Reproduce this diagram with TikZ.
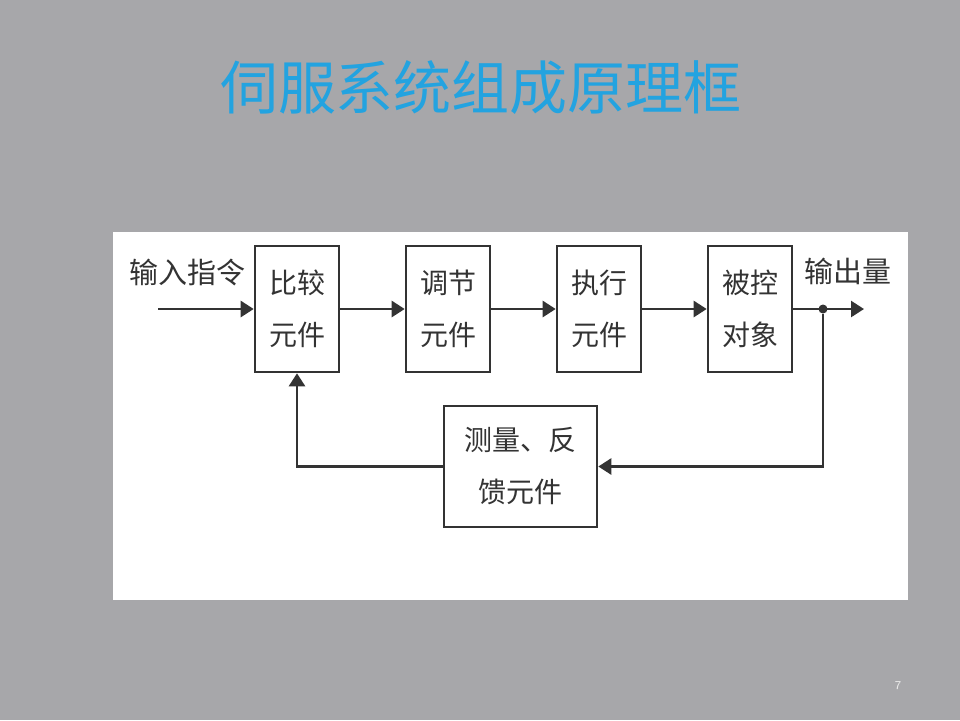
\documentclass[tikz,border=0pt]{standalone}
\usepackage{fontspec}
\newfontfamily\cjk{Noto Sans CJK SC}
\usepackage{xcolor}
\definecolor{bg}{HTML}{A7A7AA}
\definecolor{ln}{HTML}{333333}
\definecolor{tb}{HTML}{23A3E0}
\usetikzlibrary{arrows.meta,positioning}

\begin{document}
\begin{tikzpicture}[
  x=0.5pt, y=-0.5pt, node distance=32.2pt, >={Triangle[length=6.5pt,width=8pt]},
  blk/.style={rectangle, draw=ln, line width=1.3pt, fill=white, minimum width=42pt, minimum height=63pt, inner sep=0pt, align=center, text=ln, font=\cjk\fontsize{14pt}{26pt}\selectfont},
  lbl/.style={text=ln, inner sep=0pt, font=\cjk\fontsize{14.5pt}{17pt}\selectfont},
  wire/.style={->, draw=ln, line width=1.3pt},
]
  \fill[bg] (0,0) rectangle (960,720);
  \useasboundingbox (0,0) rectangle (960,720);
  \fill[white] (113,232) rectangle (908,600);

  \node[text=tb, font=\cjk\fontsize{29pt}{32pt}\selectfont] (title) at (481,88) {伺服系统组成原理框};

  \node[blk] (bj) at (297,309) {比较\\元件};
  \node[blk, right=of bj] (tj) {调节\\元件};
  \node[blk, right=of tj] (zx) {执行\\元件};
  \node[blk, right=of zx] (bk) {被控\\对象};
  \node[blk, minimum width=76.5pt, minimum height=60.5pt] (fk) at (520.5,466.5) {测量、反\\馈元件};

  \node[lbl] (srzl) at (187,272) {输入指令};
  \node[lbl] (scl) at (848,271) {输出量};
  \coordinate (in) at (158,309);
  \coordinate (out) at (864,309);
  \node[circle, fill=ln, inner sep=0pt, minimum size=4.5pt] (dot) at (823,309) {};

  \draw[wire] (in) -- (bj);
  \draw[wire] (bj) -- (tj);
  \draw[wire] (tj) -- (zx);
  \draw[wire] (zx) -- (bk);
  \draw[wire] (bk) -- (out);
  \draw[wire] (dot) |- (fk);
  \draw[wire] (fk) -| (bj);

  \node[text=white!85!gray, font=\sffamily\fontsize{6pt}{7pt}\selectfont] (pg) at (898,686) {7};
\end{tikzpicture}
\end{document}
